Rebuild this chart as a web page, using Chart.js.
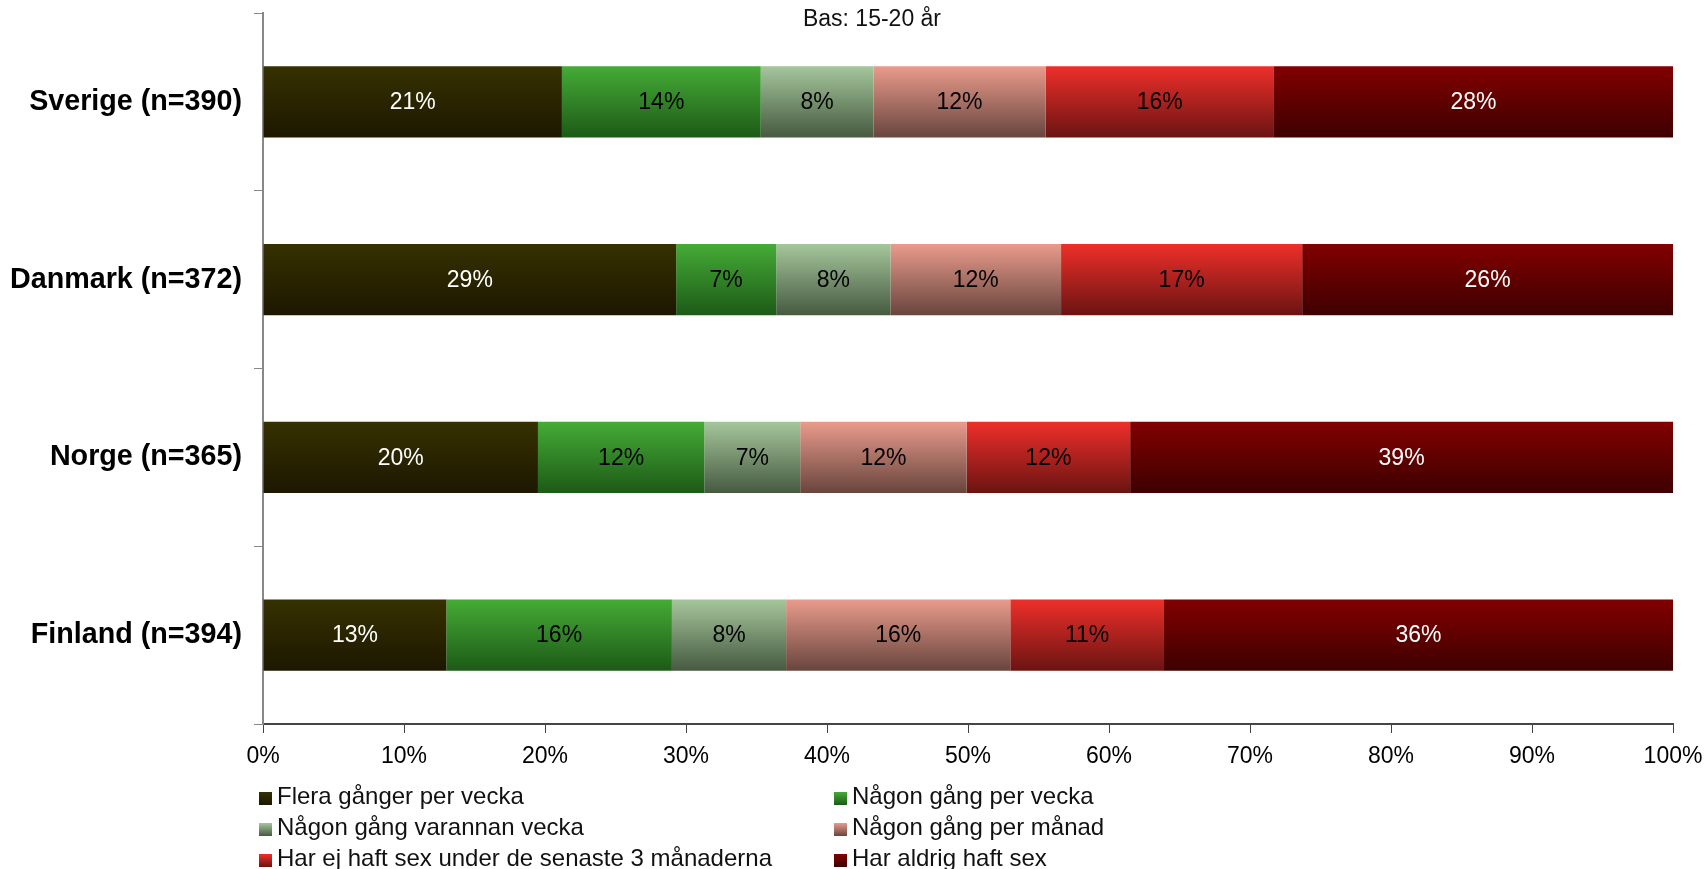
<!DOCTYPE html>
<html>
<head>
<meta charset="utf-8">
<script src="https://cdn.jsdelivr.net/npm/chart.js@4/dist/chart.umd.min.js"></script>
<style>
  html, body { margin: 0; padding: 0; background: #fff; }
  #wrap { position: relative; width: 1707px; height: 869px; overflow: hidden; }
  #sub { position: absolute; left: 0; width: 1744px; top: 5px; text-align: center;
         font: 23px "Liberation Sans", Arial, sans-serif; color: #111; }
  #legend { position: absolute; left: 0; top: 0; width: 1707px; height: 869px; pointer-events: none;
            font: 24px "Liberation Sans", Arial, sans-serif; color: #111; }
  .item { position: absolute; white-space: nowrap; line-height: 26px; }
  .box { display: inline-block; width: 13px; height: 13px; margin-right: 5px; vertical-align: -1px; }
</style>
</head>
<body>
<div id="wrap">
  <canvas id="chart" width="1707" height="869"></canvas>
  <div id="sub">Bas: 15-20 år</div>
  <div id="legend"></div>
</div>
<script>
var countries = ["Sverige (n=390)", "Danmark (n=372)", "Norge (n=365)", "Finland (n=394)"];

var seriesNames = [
  "Flera gånger per vecka",
  "Någon gång per vecka",
  "Någon gång varannan vecka",
  "Någon gång per månad",
  "Har ej haft sex under de senaste 3 månaderna",
  "Har aldrig haft sex"
];

// percent per country, same order as countries
var fleraPerVecka = [21.2, 29.3, 19.5, 13.0];
var nagonPerVecka = [14.1, 7.1, 11.8, 16.0];
var varannanVecka = [8.0, 8.1, 6.8, 8.1];
var perManad = [12.2, 12.1, 11.8, 15.9];
var ejSenaste3 = [16.2, 17.1, 11.6, 10.9];
var aldrig = [28.3, 26.3, 38.5, 36.1];

var xTicks = [0, 10, 20, 30, 40, 50, 60, 70, 80, 90, 100];

// top / bottom gradient colours and label colour for each series
var topColors = ["#363100", "#45ab36", "#a5c69c", "#e99b8c", "#ee2f2a", "#820000"];
var bottomColors = ["#1d1700", "#1d5a17", "#465a40", "#68453d", "#6a1412", "#3e0000"];
var textColors = ["#fff", "#000", "#000", "#000", "#000", "#fff"];

var allValues = [fleraPerVecka, nagonPerVecka, varannanVecka, perManad, ejSenaste3, aldrig];

var datasets = [];
for (var i = 0; i < seriesNames.length; i++) {
  datasets.push({
    label: seriesNames[i],
    data: allValues[i],
    // function so each bar gets its own options object (gradient set later)
    backgroundColor: (function (c) { return function () { return c; }; })(topColors[i]),
    borderWidth: 0,
    barPercentage: 0.4,
    categoryPercentage: 1
  });
}

// vertical gradient on each bar, set once the bars have their positions
var barGradients = {
  id: 'barGradients',
  beforeDatasetsDraw: function (chart) {
    var ctx = chart.ctx;
    chart.data.datasets.forEach(function (ds, di) {
      chart.getDatasetMeta(di).data.forEach(function (bar) {
        var p = bar.getProps(['y', 'height'], true);
        if (!isFinite(p.y) || !isFinite(p.height)) return;
        var g = ctx.createLinearGradient(0, p.y - p.height / 2, 0, p.y + p.height / 2);
        g.addColorStop(0, topColors[di]);
        g.addColorStop(1, bottomColors[di]);
        bar.options = Object.assign({}, bar.options, { backgroundColor: g });
      });
    });
  }
};

// percent labels in the middle of each segment
var barLabels = {
  id: 'barLabels',
  afterDatasetsDraw: function (chart) {
    var ctx = chart.ctx;
    ctx.save();
    ctx.font = '23px "Liberation Sans", Arial, sans-serif';
    ctx.textAlign = 'center';
    ctx.textBaseline = 'middle';
    chart.data.datasets.forEach(function (ds, di) {
      chart.getDatasetMeta(di).data.forEach(function (bar, j) {
        var p = bar.getProps(['x', 'y', 'base'], true);
        ctx.fillStyle = textColors[di];
        ctx.fillText(Math.round(ds.data[j]) + '%', (p.x + p.base) / 2, p.y + 1);
      });
    });
    ctx.restore();
  }
};

new Chart(document.getElementById("chart"), {
  type: 'bar',
  data: { labels: countries, datasets: datasets },
  plugins: [barGradients, barLabels],
  options: {
    indexAxis: 'y',
    responsive: false,
    animation: false,
    layout: { padding: { top: 13, right: 34, left: 0, bottom: 0 } },
    plugins: {
      legend: { display: false },
      tooltip: { enabled: false },
      title: { display: false }
    },
    scales: {
      x: {
        stacked: true,
        min: 0,
        max: 100,
        afterFit: function (s) { s.height = 145; s.paddingLeft = 0; s.paddingRight = 0; },
        afterBuildTicks: function (s) { s.ticks = xTicks.map(function (v) { return { value: v }; }); },
        border: { color: '#444', width: 2 },
        grid: { drawOnChartArea: false, drawTicks: true, tickLength: 9, color: '#444', lineWidth: 1 },
        ticks: {
          padding: 10,
          color: '#000',
          font: { family: '"Liberation Sans", Arial, sans-serif', size: 23 },
          callback: function (v) { return v + '%'; }
        }
      },
      y: {
        stacked: true,
        afterFit: function (s) { s.width = 263; s.paddingTop = 0; s.paddingBottom = 0; },
        border: { color: '#888', width: 2 },
        grid: { offset: true, drawOnChartArea: false, drawTicks: true, tickLength: 9, color: '#888' },
        ticks: {
          padding: 12,
          color: '#000',
          font: { family: '"Liberation Sans", Arial, sans-serif', size: 28.7, weight: 'bold' }
        }
      }
    }
  }
});

// legend in two columns, like the original
var legend = document.getElementById('legend');
var colX = [259, 834];
var rowY = [783, 814, 845];
seriesNames.forEach(function (name, i) {
  var d = document.createElement('div');
  d.className = 'item';
  d.style.left = colX[i % 2] + 'px';
  d.style.top = rowY[Math.floor(i / 2)] + 'px';
  var b = document.createElement('span');
  b.className = 'box';
  b.style.background = 'linear-gradient(' + topColors[i] + ',' + bottomColors[i] + ')';
  d.appendChild(b);
  d.appendChild(document.createTextNode(name));
  legend.appendChild(d);
});
</script>
</body>
</html>
